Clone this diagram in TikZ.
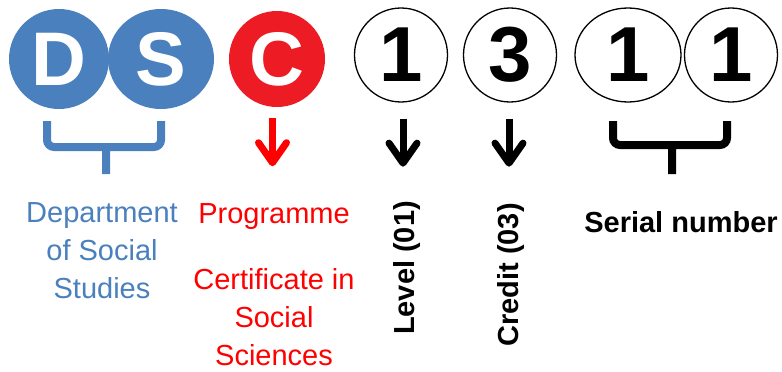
\documentclass[tikz,border=0pt]{standalone}
\usepackage{fontspec}
\setmainfont{Liberation Sans}
\usepackage{tikz}
\usetikzlibrary{arrows.meta, shapes.geometric}
\definecolor{deptblue}{HTML}{4A80BD}
\definecolor{progred}{HTML}{ED1C24}

\begin{document}
\begin{tikzpicture}[x=1pt, y=-1pt,
    letterdisc/.style = {ellipse, inner sep=0pt, text=white, font=\fontsize{76}{76}\selectfont\bfseries},
    digitring/.style = {ellipse, draw=black, line width=1.3pt, inner sep=0pt, minimum height=94pt, font=\fontsize{78}{78}\selectfont\bfseries},
    txt/.style = {align=center, inner sep=0pt, font=\fontsize{29}{38}\selectfont},
    boldtxt/.style = {inner sep=0pt, font=\fontsize{29}{29}\selectfont\bfseries},
    brace/.style = {line width=8pt, rounded corners=7pt},
    downarrow/.style = {line width=7pt, -{Straight Barb[length=20pt, width=28pt, round]}}]
        \useasboundingbox[fill=white] (0,0) rectangle (782,372);
        % the code letters
        \node[letterdisc, fill=deptblue, minimum width=100pt, minimum height=100pt] (dD) at (59,59) {D};
        \node[letterdisc, fill=deptblue, minimum width=106pt, minimum height=100pt] (dS) at (161,59) {S};
        \node[letterdisc, fill=progred, minimum width=96pt, minimum height=96pt] (pC) at (277,59) {C};
        \node[digitring, minimum width=93pt] (lv) at (401,55) {1};
        \node[digitring, minimum width=93pt] (cr) at (510,55) {3};
        \node[digitring, minimum width=106pt] (snA) at (628,55) {1};
        \node[digitring, minimum width=93pt] (snB) at (731,55) {1};
        % braces and arrows
        \draw[brace, deptblue] (47,121) -- (47,147) -- (161,147) -- (161,121) (106,147) -- (106,174);
        \draw[brace] (613,121) -- (613,145) -- (727,145) -- (727,121) (672,145) -- (672,174);
        \draw[downarrow, red] ([xshift=-4.5pt, yshift=-11pt]pC.south) -- ++(0,48);
        \draw[downarrow] ([xshift=2pt, yshift=-16pt]lv.south) -- ++(0,48);
        \draw[downarrow] ([xshift=-1pt, yshift=-16pt]cr.south) -- ++(0,48);
        % meaning of each part
        \node[txt, deptblue, anchor=base] (dept) at (102,298) {Department\\of Social\\Studies};
        \node[txt, red, anchor=base] (prog) at (274,223) {Programme};
        \node[txt, red, anchor=base] (cert) at (274,365) {Certificate in\\Social\\Sciences};
        \node[boldtxt, rotate=90] (level) at (407,268) {Level (01)};
        \node[boldtxt, rotate=90] (credit) at (511,275) {Credit (03)};
        \node[boldtxt, anchor=base] (serial) at (681,232) {Serial number};
\end{tikzpicture}
\end{document}
